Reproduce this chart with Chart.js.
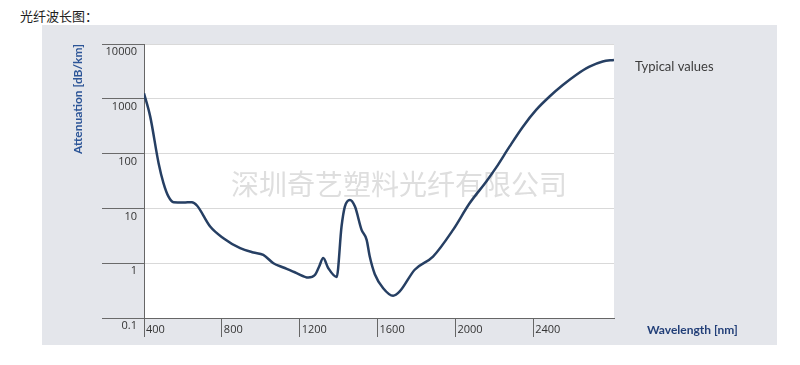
<!DOCTYPE html>
<html>
<head>
<meta charset="utf-8">
<script src="https://cdn.jsdelivr.net/npm/chart.js@4/dist/chart.umd.min.js"></script>
<style>
  body { margin: 0; background: #fff; }
  #wrap { position: relative; width: 800px; height: 365px; }
  #title { position: absolute; left: 20px; top: 6px; font: 13px "Noto Sans CJK SC", sans-serif; color: #222; }
  #panel { position: absolute; left: 42px; top: 25px; width: 735px; height: 320px; background: #e4e6eb; }
  #chart { position: absolute; left: 0; top: 0; }
</style>
</head>
<body>
<div id="wrap">
  <div id="title">光纤波长图：</div>
  <div id="panel"></div>
  <canvas id="chart" width="800" height="365"></canvas>
</div>
<script>
// wavelength in nm, attenuation in dB/km
const wavelengths = [400, 432, 475, 500, 526, 552, 603, 646, 672, 740, 808, 894, 962, 1013, 1065, 1116, 1184, 1244, 1278, 1300, 1321, 1347, 1390, 1415, 1432, 1458, 1484, 1518, 1544, 1560, 1586, 1629, 1680, 1714, 1791, 1885, 1988, 2073, 2159, 2210, 2278, 2347, 2415, 2484, 2552, 2620, 2689, 2757, 2815];
const attenuation = [1260, 473, 67, 29, 16.4, 13, 12.8, 13, 11.3, 4.67, 2.86, 1.88, 1.57, 1.42, 1.0, 0.835, 0.66, 0.55, 0.61, 0.87, 1.24, 0.81, 0.56, 4.67, 10.8, 14.3, 10.8, 4.06, 2.67, 1.32, 0.63, 0.35, 0.255, 0.305, 0.76, 1.32, 4.06, 12.4, 31, 56, 134, 310, 626, 1100, 1780, 2720, 3850, 4790, 5130];
const xTicks = [400, 800, 1200, 1600, 2000, 2400];
const yTicks = [0.1, 1, 10, 100, 1000, 10000];
const seriesName = 'Typical values';
const watermark = '深圳奇艺塑料光纤有限公司';

const decor = {
  id: 'decor',
  beforeDraw(chart) {
    const {ctx, chartArea: a} = chart;
    ctx.save();
    ctx.fillStyle = '#ffffff';
    ctx.fillRect(a.left, a.top, a.right - a.left, a.bottom - a.top);
    ctx.restore();
  },
  beforeDatasetsDraw(chart) {
    const {ctx} = chart;
    ctx.save();
    ctx.font = '28px "Noto Sans CJK SC", sans-serif';
    ctx.fillStyle = '#dedede';
    ctx.textBaseline = 'middle';
    ctx.fillText(watermark, 231, 184);
    ctx.restore();
  },
  afterDraw(chart) {
    const {ctx, chartArea: a} = chart;
    ctx.save();
    ctx.textBaseline = 'middle';
    ctx.font = '13px Lato, sans-serif';
    ctx.fillStyle = '#3c3c3c';
    ctx.fillText(seriesName, a.right + 21, a.top + 23);
    ctx.font = 'bold 12px Lato, sans-serif';
    ctx.fillStyle = '#223f78';
    ctx.fillText('Wavelength [nm]', a.right + 33, a.bottom + 12);
    ctx.restore();
  }
};

new Chart(document.getElementById('chart'), {
  type: 'line',
  data: {
    datasets: [{
      label: seriesName,
      data: wavelengths.map((w, i) => ({x: w, y: attenuation[i]})),
      borderColor: '#263f63',
      borderWidth: 2.5,
      pointRadius: 0,
      cubicInterpolationMode: 'monotone',
      fill: false
    }]
  },
  options: {
    responsive: false,
    animation: false,
    layout: { padding: { left: 60, right: 186, top: 44, bottom: 20 } },
    plugins: { legend: { display: false }, tooltip: { enabled: false } },
    scales: {
      x: {
        type: 'linear',
        min: 400,
        max: 2815,
        afterBuildTicks: s => { s.ticks = xTicks.map(v => ({value: v})); },
        afterFit: s => { s.height = 27; },
        grid: { drawOnChartArea: false, tickLength: 19, tickColor: '#666', lineWidth: 1 },
        border: { color: '#666' },
        ticks: {
          align: 'start', labelOffset: 2, padding: -14, maxRotation: 0, autoSkip: false,
          color: '#333', font: { family: '"Open Sans", sans-serif', size: 11 },
          callback: v => String(v)
        }
      },
      y: {
        type: 'logarithmic',
        min: 0.1,
        max: 10000,
        afterBuildTicks: s => { s.ticks = yTicks.map(v => ({value: v})); },
        afterFit: s => { s.width = 84; },
        grid: { color: '#d9d9d9', tickColor: '#6a6a6a', tickLength: 42, lineWidth: 1 },
        border: { color: '#666' },
        ticks: {
          labelOffset: 8, padding: -35, autoSkip: false,
          color: '#333', font: { family: '"Open Sans", sans-serif', size: 11 },
          callback: v => String(v)
        },
        title: {
          display: true,
          text: 'Attenuation [dB/km]',
          align: 'end',
          color: '#2c5597',
          font: { family: 'Lato, sans-serif', size: 12, weight: 'bold' },
          padding: { top: 11, bottom: 0 }
        }
      }
    }
  },
  plugins: [decor]
});
</script>
</body>
</html>
